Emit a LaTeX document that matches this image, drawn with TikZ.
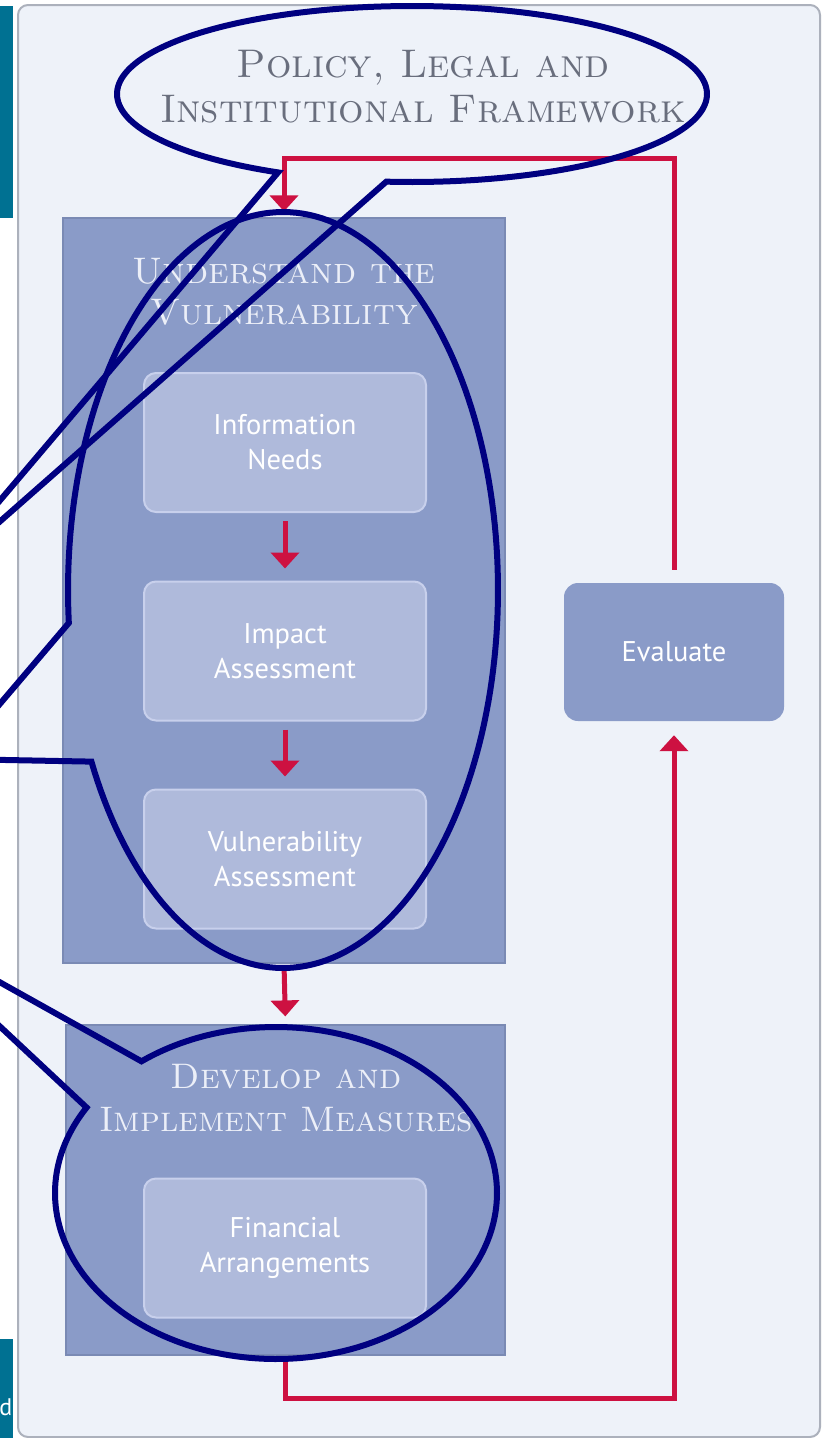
\documentclass[tikz,border=0pt]{standalone}
\usepackage{fontspec}
\setsansfont{PT Sans}
\usetikzlibrary{arrows.meta,calc}
\definecolor{tealbar}{RGB}{0,113,146}
\definecolor{panelbg}{RGB}{238,242,249}
\definecolor{paneledge}{RGB}{172,177,188}
\definecolor{boxblue}{RGB}{138,155,200}
\definecolor{boxedge}{RGB}{122,138,180}
\definecolor{innerfill}{RGB}{175,186,219}
\definecolor{inneredge}{RGB}{200,208,236}
\definecolor{flowred}{RGB}{205,17,65}
\definecolor{calloutnavy}{RGB}{0,0,128}
\definecolor{titlegrey}{RGB}{105,110,125}
\definecolor{titlelight}{RGB}{236,239,248}
\begin{document}
\begin{tikzpicture}[x=1pt,y=-1pt,
  bigbox/.style={draw=boxedge, fill=boxblue, line width=1.2pt, inner sep=0pt},
  innerbox/.style={draw=inneredge, fill=innerfill, line width=2pt, rounded corners=12pt,
     inner sep=0pt, minimum width=282pt, minimum height=139pt,
     text=white, align=center, font=\sffamily\fontsize{28.5}{35}\selectfont},
  evalbox/.style={fill=boxblue, rounded corners=14pt, inner sep=0pt,
     minimum width=220pt, minimum height=138pt,
     text=white, align=center, font=\sffamily\fontsize{28.5}{35}\selectfont},
  headtext/.style={align=center, inner sep=0pt, font=\rmfamily\scshape},
  flow/.style={draw=flowred, line width=5pt, -{Triangle[width=28pt,length=16pt]}},
  callout/.style={draw=calloutnavy, line width=6pt, line join=miter}]
\useasboundingbox (0,0) rectangle (825,1438);
\fill[white] (0,0) rectangle (825,1438);
% background panel
\node[draw=paneledge, fill=panelbg, line width=2pt, rounded corners=10pt,
      minimum width=802pt, minimum height=1432pt, inner sep=0pt] (panel) at (419,721) {};
% left teal bars
\fill[tealbar] (0,6) rectangle (12.5,218);
\fill[tealbar] (0,1339) rectangle (12.5,1438);
\node[anchor=base east, inner sep=0pt, text=white, font=\sffamily\fontsize{24}{26}\selectfont] (dtxt) at (12.5,1415) {d};
% main boxes
\node[bigbox, minimum width=442pt, minimum height=745pt] (und) at (284,590.5) {};
\node[bigbox, minimum width=439pt, minimum height=330pt] (dev) at (285.5,1190) {};
% headings
\node[headtext, text=titlegrey, font=\rmfamily\scshape\fontsize{40}{45}\selectfont] (ttl) at (423,87) {Policy, Legal and\\Institutional Framework};
\node[headtext, text=titlelight, font=\rmfamily\scshape\fontsize{37}{41}\selectfont] (undttl) at (284,292) {Understand the\\Vulnerability};
\node[headtext, text=titlelight, font=\rmfamily\scshape\fontsize{35.5}{43}\selectfont] (devttl) at (286,1098) {Develop and\\Implement Measures};
% inner boxes
\node[innerbox] (info) at (285,442.5) {Information\\Needs};
\node[innerbox] (impact) at (285,651) {Impact\\Assessment};
\node[innerbox] (vuln) at (285,859) {Vulnerability\\Assessment};
\node[innerbox] (fin) at (285,1248) {Financial\\Arrangements};
\node[evalbox] (eval) at (674,652) {Evaluate};
% flow arrows
\coordinate (topy) at (0,158);
\coordinate (boty) at (0,1398);
\draw[flow, shorten <=8pt, shorten >=12pt] (info.south) -- (impact.north);
\draw[flow, shorten <=8pt, shorten >=12pt] (impact.south) -- (vuln.north);
\draw[flow, shorten <=5pt, shorten >=8pt] (und.south) -- (dev.north);
\draw[flow, shorten <=13pt, shorten >=6pt] (eval.north) -- (eval.north |- topy) -| (und.north);
\draw[flow, shorten >=14pt] (dev.south) |- (boty -| eval.south) -- (eval.south);
% callouts
\begin{scope}
\clip (0,0) rectangle (825,1438);
\coordinate (tipA) at (-70,583);
\coordinate (tipB) at (-47,759);
\coordinate (tipC) at (-117,917);
\draw[callout] (tipA) -- plot[domain=117:455, samples=200] ({412+295*cos(\x)},{94+88*sin(\x)}) -- cycle;
\draw[callout] (tipB) -- plot[domain=175:513, samples=200] ({283+215*cos(\x)},{590+378*sin(\x)}) -- cycle;
\draw[callout] (tipC) -- plot[domain=232.5:571, samples=200] ({276+221*cos(\x)},{1193+166*sin(\x)}) -- cycle;
\end{scope}
\end{tikzpicture}
\end{document}
